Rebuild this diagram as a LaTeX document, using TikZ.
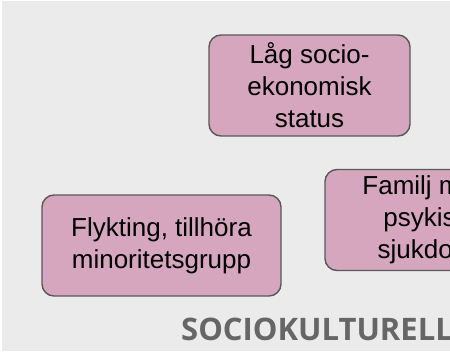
\documentclass[tikz,border=0pt]{standalone}
\usepackage{fontspec}
\setmainfont{Liberation Sans}
\newfontfamily\titlefont{Open Sans}
\usepackage{xcolor}
\usepackage{tikz}
\usetikzlibrary{positioning}
\definecolor{cBg}{HTML}{EBEBEB}
\definecolor{cBox}{HTML}{D5A6BD}
\definecolor{cLine}{HTML}{595959}
\definecolor{cTitle}{HTML}{666666}
\tikzset{
  factor/.style={rectangle,rounded corners=12pt,draw=cLine,fill=cBox,line width=1.4pt,
    minimum height=101pt,align=center,inner sep=0pt,font=\fontsize{26}{32}\selectfont},
  heading/.style={text=cTitle,inner sep=0pt,font=\titlefont\bfseries\fontsize{31}{36}\selectfont}}

\begin{document}
\begin{tikzpicture}[x=1pt,y=-1pt]
\useasboundingbox (0,0) rectangle (450,351);
\clip (0,0) rectangle (450,351);
\fill[cBg] (2,1) rectangle (450,351);
\node[factor, minimum width=201pt] (ses) at (309.5,85.5) {Låg socio-\\ekonomisk\\status};
\node[factor, minimum width=202pt] (fam) at (426,220) {Familj med\\psykisk\\sjukdom};
\node[factor, minimum width=239pt] (ref) at (161.5,245.5) {Flykting, tillhöra\\minoritetsgrupp};
\node[heading, anchor=base west] (head) at (181,340) {SOCIOKULTURELLT};
\end{tikzpicture}
\end{document}
